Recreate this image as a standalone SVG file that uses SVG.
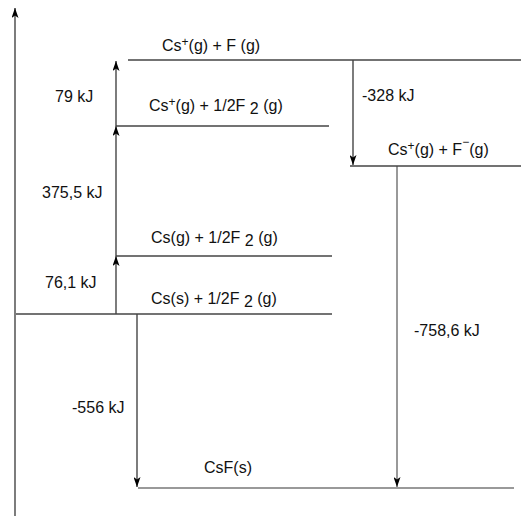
<svg xmlns="http://www.w3.org/2000/svg" width="521" height="516" viewBox="0 0 521 516">
<defs>
<marker id="ah" viewBox="0 0 10 10" refX="10" refY="5" markerWidth="10" markerHeight="7" markerUnits="userSpaceOnUse" orient="auto" preserveAspectRatio="none">
<path d="M0,0 L10,5 L0,10 L2.5,5 z" fill="#000"/>
</marker>
<style>
text{font-family:"Liberation Sans",Arial,sans-serif;font-size:16px;fill:#111}
.sup{font-size:12px}
.lvl{stroke:#444;stroke-width:1.3;fill:none}
.arr{stroke:#111;stroke-width:1.1;fill:none;marker-end:url(#ah)}
.g{stroke:#777;stroke-width:1.5}
</style>
</defs>
<rect width="521" height="516" fill="#fff"/>
<g id="axis">
<line class="arr" x1="15" y1="516" x2="15" y2="8"/>
</g>
<g id="connectors">
<line class="arr" x1="116" y1="314" x2="116" y2="256"/>
<line class="arr" x1="116" y1="256" x2="116" y2="126"/>
<line class="arr" x1="116" y1="126" x2="116" y2="61"/>
<line class="arr" x1="353" y1="60" x2="353" y2="165"/>
<line class="arr g" x1="397" y1="166" x2="397" y2="487"/>
<line class="arr" x1="137" y1="314" x2="137" y2="487"/>
</g>
<g id="level-cs-plus-f">
<line class="lvl" x1="128" y1="60" x2="521" y2="60"/>
<text x="162" y="51">Cs<tspan class="sup" dy="-5">+</tspan><tspan dy="5">(g) + F (g)</tspan></text>
</g>
<g id="level-cs-plus-half-f2">
<line class="lvl" x1="116" y1="126" x2="329" y2="126"/>
<text x="149" y="111">Cs<tspan class="sup" dy="-5">+</tspan><tspan dy="5">(g) + 1/2F </tspan><tspan dy="3">2</tspan><tspan dy="-3"> (g)</tspan></text>
</g>
<g id="level-cs-plus-f-minus">
<line class="lvl" x1="350" y1="166" x2="521" y2="166"/>
<text x="388" y="155">Cs<tspan class="sup" dy="-5">+</tspan><tspan dy="5">(g) + F</tspan><tspan class="sup" dy="-9">−</tspan><tspan dy="9">(g)</tspan></text>
</g>
<g id="level-cs-g">
<line class="lvl" x1="116" y1="256" x2="332" y2="256"/>
<text x="151" y="243">Cs(g) + 1/2F <tspan dy="3">2</tspan><tspan dy="-3"> (g)</tspan></text>
</g>
<g id="level-cs-s">
<line class="lvl" x1="16" y1="314" x2="332" y2="314"/>
<text x="151" y="304">Cs(s) + 1/2F <tspan dy="3">2</tspan><tspan dy="-3"> (g)</tspan></text>
</g>
<g id="level-csf">
<line class="lvl g" x1="138" y1="488" x2="514" y2="488"/>
<text x="204" y="473">CsF(s)</text>
</g>
<g id="labels">
<text x="55" y="102">79 kJ</text>
<text x="42" y="198">375,5 kJ</text>
<text x="45" y="288">76,1 kJ</text>
<text x="362" y="101">-328 kJ</text>
<text x="414" y="336">-758,6 kJ</text>
<text x="72" y="413">-556 kJ</text>
</g>
</svg>
